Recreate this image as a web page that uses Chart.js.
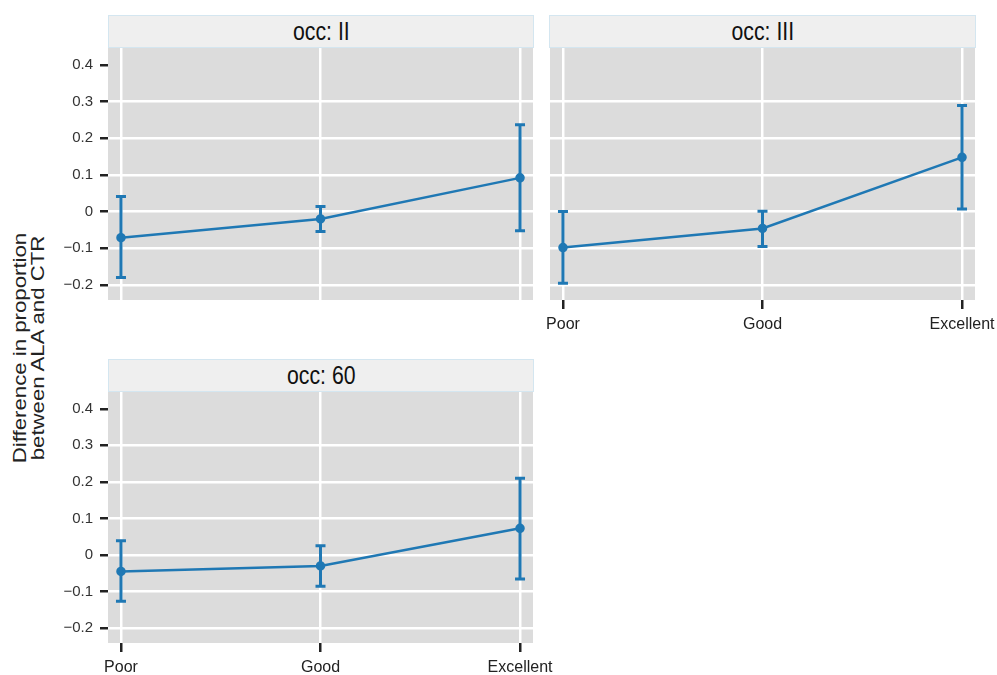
<!DOCTYPE html>
<html>
<head>
<meta charset="utf-8">
<script src="https://cdn.jsdelivr.net/npm/chart.js@4.4.1/dist/chart.umd.min.js"></script>
<style>
  body { margin: 0; background: #fff; width: 997px; height: 675px; overflow: hidden; position: relative; font-family: "Liberation Sans", Arial, sans-serif; }
  .box { position: absolute; }
  .strip { position: absolute; background: #efefef; border: 1px solid #d4e6f0; box-sizing: border-box;
           font-family: "Liberation Sans", Arial, sans-serif; font-size: 25px;
           color: #111; text-align: center; line-height: 31px; }
  .strip span { display: inline-block; transform: scaleX(0.85); }
  #ytitle { position: absolute; left: -99px; top: 328px; width: 260px; height: 40px; text-align: center;
            font-size: 18.5px; line-height: 18px; color: #222; transform: rotate(-90deg) scaleX(1.2); }
</style>
</head>
<body>
<div class="strip" style="left:108px;top:15px;width:426px;height:33px;"><span>occ: II</span></div>
<div class="strip" style="left:549px;top:15px;width:427px;height:33px;"><span>occ: III</span></div>
<div class="strip" style="left:108px;top:359px;width:426px;height:33px;"><span>occ: 60</span></div>
<div id="ytitle">Difference in proportion<br>between ALA and CTR</div>

<div class="box" style="left:50px;top:48px;"><canvas id="c1" width="490" height="262"></canvas></div>
<div class="box" style="left:545px;top:48px;"><canvas id="c2" width="452" height="290"></canvas></div>
<div class="box" style="left:50px;top:392px;"><canvas id="c3" width="510" height="283"></canvas></div>

<script>
var categories = ["Poor", "Good", "Excellent"];
var yTickValues = [-0.2, -0.1, 0, 0.1, 0.2, 0.3, 0.4];
var yTickLabels = ["\u22120.2", "\u22120.1", "0", "0.1", "0.2", "0.3", "0.4"];

var occII_est = [-0.071, -0.020, 0.092];
var occII_lo  = [-0.180, -0.054, -0.052];
var occII_hi  = [0.041, 0.014, 0.237];

var occIII_est = [-0.098, -0.046, 0.148];
var occIII_lo  = [-0.195, -0.095, 0.007];
var occIII_hi  = [0.000, 0.001, 0.289];

var occ60_est = [-0.045, -0.030, 0.073];
var occ60_lo  = [-0.127, -0.086, -0.066];
var occ60_hi  = [0.039, 0.025, 0.210];

var blue = "#1f78b4";

// grey panel behind grid + error bars on top
var panelPlugin = {
  id: "panel",
  beforeDraw: function (chart) {
    var a = chart.chartArea, ctx = chart.ctx;
    ctx.save();
    ctx.fillStyle = "#dcdcdc";
    ctx.fillRect(a.left, a.top, a.right - a.left, a.bottom - a.top);
    ctx.restore();
  },
  afterDatasetsDraw: function (chart) {
    var ctx = chart.ctx, xs = chart.scales.x, ys = chart.scales.y;
    chart.data.datasets.forEach(function (ds) {
      ctx.save();
      ctx.strokeStyle = blue;
      ctx.lineWidth = 3;
      for (var i = 0; i < ds.lo.length; i++) {
        var x = xs.getPixelForValue(i);
        var y1 = ys.getPixelForValue(ds.lo[i]);
        var y2 = ys.getPixelForValue(ds.hi[i]);
        ctx.beginPath();
        ctx.moveTo(x, y1); ctx.lineTo(x, y2);
        ctx.moveTo(x - 5, y1); ctx.lineTo(x + 5, y1);
        ctx.moveTo(x - 5, y2); ctx.lineTo(x + 5, y2);
        ctx.stroke();
      }
      ctx.restore();
    });
  }
};

function makeChart(id, est, lo, hi, showY, showX, yWidth, xHeight, padRight) {
  var pts = est.map(function (v, i) { return { x: i, y: v }; });
  return new Chart(document.getElementById(id), {
    type: "line",
    data: {
      datasets: [{
        data: pts, lo: lo, hi: hi,
        borderColor: blue, backgroundColor: blue,
        borderWidth: 2.5, pointRadius: 3.5, pointHoverRadius: 3.5, fill: false, tension: 0
      }]
    },
    plugins: [panelPlugin],
    options: {
      responsive: false, animation: false, devicePixelRatio: 1,
      layout: { autoPadding: false, padding: { left: 0, right: padRight, top: 0, bottom: 0 } },
      plugins: { legend: { display: false }, tooltip: { enabled: false } },
      scales: {
        x: {
          type: "linear", min: -0.065, max: 2.065,
          border: { display: false },
          afterFit: function (s) { s.height = xHeight; s.paddingLeft = 0; s.paddingRight = 0; },
          afterBuildTicks: function (s) { s.ticks = [0, 1, 2].map(function (v) { return { value: v }; }); },
          grid: { color: "#ffffff", lineWidth: 2.5, drawTicks: showX, tickLength: 9, tickColor: "#222", tickWidth: 2.5 },
          ticks: {
            display: showX, padding: 6, color: "#222", maxRotation: 0,
            font: { family: "Liberation Sans", size: 16 },
            callback: function (v) { return categories[Math.round(v)]; }
          }
        },
        y: {
          min: -0.241, max: 0.446,
          border: { display: false },
          afterFit: function (s) { s.width = yWidth; s.paddingTop = 0; s.paddingBottom = 0; },
          afterBuildTicks: function (s) { s.ticks = yTickValues.map(function (v) { return { value: v }; }); },
          grid: {
            lineWidth: 2.5, drawTicks: showY, tickLength: 8, tickColor: "#222", tickWidth: 2.5,
            color: function (c) { return (c.tick && Math.abs(c.tick.value - 0.4) < 1e-6) ? "rgba(0,0,0,0)" : "#ffffff"; }
          },
          ticks: {
            display: showY, padding: 7, color: "#333",
            font: { family: "Liberation Sans", size: 15 },
            callback: function (v) {
              var k = yTickValues.findIndex(function (t) { return Math.abs(t - v) < 1e-6; });
              return k >= 0 ? yTickLabels[k] : "";
            }
          }
        }
      }
    }
  });
}

makeChart("c1", occII_est, occII_lo, occII_hi, true, false, 58, 10, 7);
makeChart("c2", occIII_est, occIII_lo, occIII_hi, false, true, 5, 38, 22);
makeChart("c3", occ60_est, occ60_lo, occ60_hi, true, true, 58, 32, 27);
</script>
</body>
</html>
